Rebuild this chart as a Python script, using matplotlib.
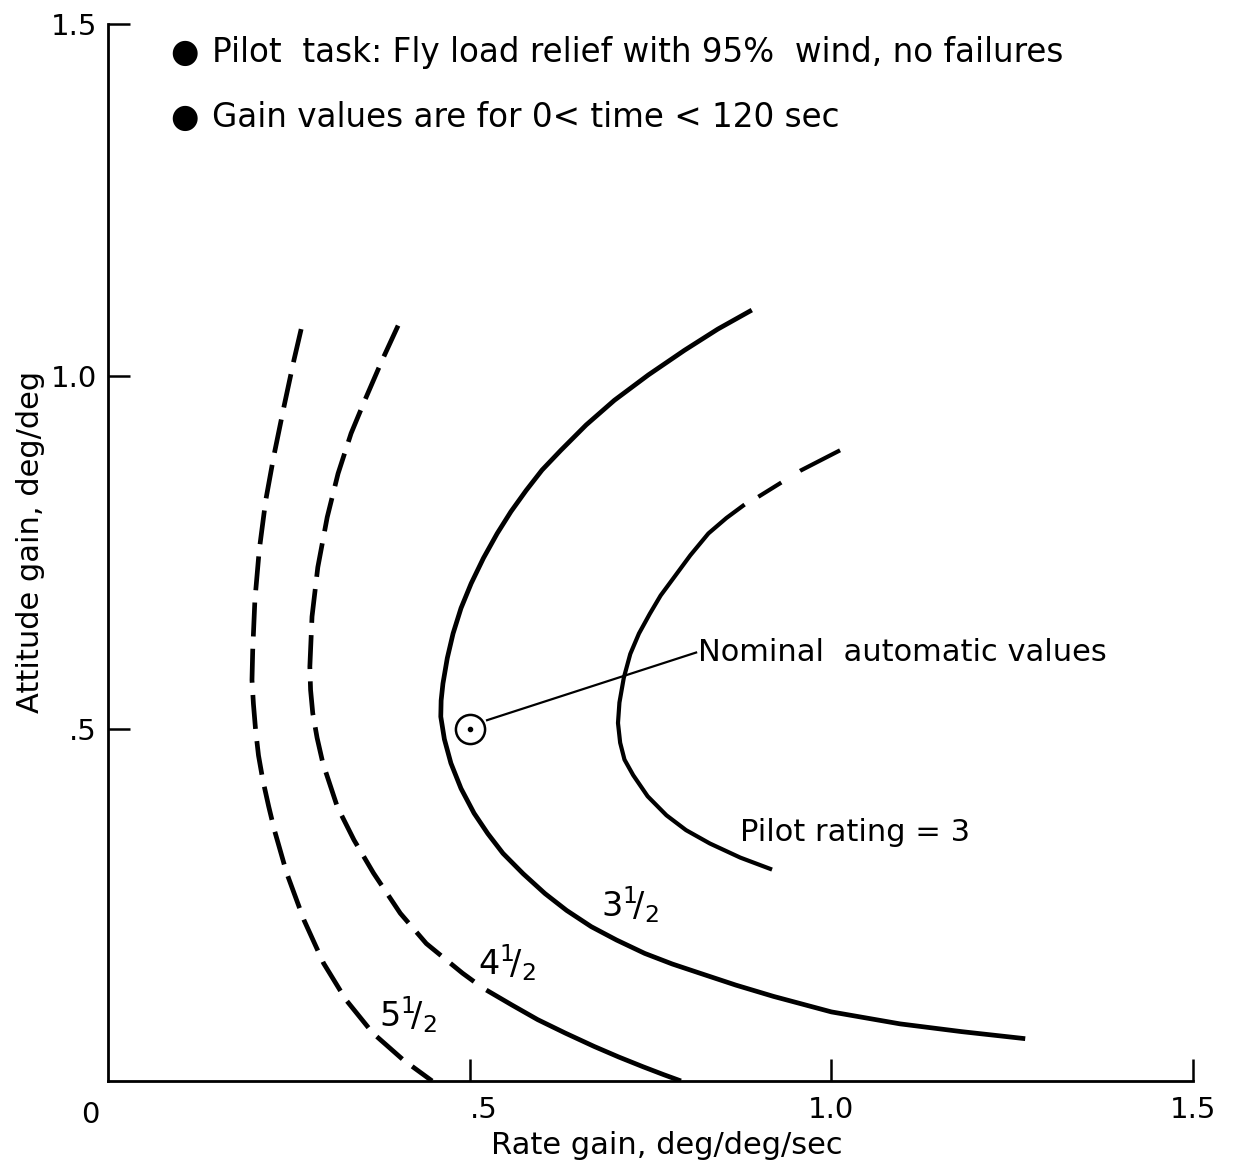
import matplotlib.pyplot as plt
import numpy as np

plt.rcParams['font.family'] = ['DejaVu Sans']
plt.rcParams['mathtext.fontset'] = 'dejavusans'

# pilot rating boundaries, rate gain (x) vs attitude gain (y)
# rating 5 1/2 (dashed)
r55_x = [0.267, 0.257, 0.243, 0.229, 0.218, 0.209, 0.203, 0.200, 0.199, 0.201, 0.204,
         0.208, 0.214, 0.222, 0.230, 0.247, 0.271, 0.298, 0.329, 0.366, 0.408, 0.448]
r55_y = [1.067, 1.023, 0.956, 0.886, 0.824, 0.753, 0.682, 0.611, 0.569, 0.535, 0.498,
         0.462, 0.427, 0.390, 0.356, 0.295, 0.228, 0.167, 0.115, 0.068, 0.030, 0.0]

# rating 4 1/2, dashed upper part, solid lower part
r45_dash_x = [0.401, 0.379, 0.355, 0.336, 0.318, 0.303, 0.290, 0.282, 0.279, 0.280, 0.283,
              0.289, 0.297, 0.317, 0.340, 0.367, 0.404, 0.440, 0.490, 0.506]
r45_dash_y = [1.072, 1.023, 0.966, 0.919, 0.862, 0.800, 0.729, 0.659, 0.588, 0.555, 0.522,
              0.487, 0.451, 0.389, 0.342, 0.295, 0.238, 0.195, 0.153, 0.141]
r45_solid_x = [0.523, 0.558, 0.594, 0.632, 0.672, 0.706, 0.740, 0.768, 0.792]
r45_solid_y = [0.129, 0.108, 0.087, 0.068, 0.049, 0.034, 0.020, 0.009, 0.0]

# rating 3 1/2 (solid)
r35_x = [0.890, 0.843, 0.797, 0.747, 0.700, 0.661, 0.626, 0.600, 0.578, 0.557, 0.538,
         0.519, 0.502, 0.488, 0.477, 0.469, 0.463, 0.4605, 0.460, 0.465, 0.474, 0.488,
         0.506, 0.525, 0.546, 0.574, 0.604, 0.634, 0.668, 0.703, 0.742, 0.780, 0.818,
         0.868, 0.920, 1.0, 1.095, 1.18, 1.268]
r35_y = [1.094, 1.067, 1.037, 1.002, 0.966, 0.931, 0.895, 0.867, 0.838, 0.808, 0.777,
         0.742, 0.706, 0.671, 0.635, 0.600, 0.564, 0.540, 0.517, 0.485, 0.451, 0.415,
         0.380, 0.351, 0.323, 0.294, 0.266, 0.242, 0.219, 0.200, 0.181, 0.166, 0.153,
         0.136, 0.120, 0.098, 0.081, 0.070, 0.060]

# rating 3, solid lower part, dashed upper part
r3_solid_x = [0.918, 0.874, 0.832, 0.799, 0.772, 0.746, 0.726, 0.714, 0.708, 0.705,
              0.707, 0.713, 0.722, 0.734, 0.749, 0.764, 0.782, 0.805, 0.830, 0.855, 0.880]
r3_solid_y = [0.300, 0.317, 0.337, 0.356, 0.377, 0.404, 0.434, 0.456, 0.480, 0.508,
              0.537, 0.572, 0.606, 0.635, 0.663, 0.689, 0.714, 0.746, 0.777, 0.799, 0.818]
r3_dash_x = [0.899, 0.957, 1.012]
r3_dash_y = [0.829, 0.866, 0.895]

# nominal automatic gains
nominal_x = 0.5
nominal_y = 0.5

ticks = [0.5, 1.0, 1.5]
tick_labels = ['.5', '1.0', '1.5']

fig = plt.figure(figsize=(12.39, 11.71), dpi=100)
ax = fig.add_axes([0.0872, 0.0769, 0.8757, 0.9026])
ax.set_xlim(0, 1.5)
ax.set_ylim(0, 1.5)

lw = 3.4
dash = (0, (7.2, 2.6))
ax.plot(r55_x, r55_y, color='black', lw=lw, linestyle=dash)
ax.plot(r45_dash_x, r45_dash_y, color='black', lw=lw, linestyle=dash)
ax.plot(r45_solid_x, r45_solid_y, color='black', lw=lw, solid_capstyle='butt')
ax.plot(r35_x, r35_y, color='black', lw=lw, solid_capstyle='butt',
        solid_joinstyle='round')
ax.plot(r3_solid_x, r3_solid_y, color='black', lw=lw - 0.4, solid_capstyle='butt',
        solid_joinstyle='round')
ax.plot(r3_dash_x, r3_dash_y, color='black', lw=lw - 0.4,
        linestyle=(0, (6.5, 5.3, 11, 5)))

# leader line and marker for the nominal point
ax.plot([nominal_x + 0.024, 0.813], [nominal_y + 0.012, 0.608], color='black', lw=1.6)
ax.plot(nominal_x, nominal_y, marker='o', ms=21, mfc='white', mec='black', mew=1.8)
ax.plot(nominal_x, nominal_y, marker='o', ms=3, color='black')

fs = 22
ax.text(0.815, 0.608, 'Nominal  automatic values', fontsize=fs, va='center', ha='left')
ax.text(0.874, 0.353, 'Pilot rating = 3', fontsize=fs, va='center', ha='left')
ax.text(0.722, 0.250, r'$3^{1}\!/_{2}$', fontsize=24, va='center', ha='center')
ax.text(0.552, 0.168, r'$4^{1}\!/_{2}$', fontsize=24, va='center', ha='center')
ax.text(0.415, 0.094, r'$5^{1}\!/_{2}$', fontsize=24, va='center', ha='center')

fs_top = 23.5
ax.text(0.106, 1.460, '\u25cf', fontsize=fs_top, va='center', ha='center')
ax.text(0.144, 1.460, 'Pilot  task: Fly load relief with 95%  wind, no failures',
        fontsize=fs_top, va='center', ha='left')
ax.text(0.106, 1.367, '\u25cf', fontsize=fs_top, va='center', ha='center')
ax.text(0.144, 1.367, 'Gain values are for 0< time < 120 sec',
        fontsize=fs_top, va='center', ha='left')

# axes styling
for side in ['top', 'right']:
    ax.spines[side].set_visible(False)
for side in ['left', 'bottom']:
    ax.spines[side].set_linewidth(2.0)
ax.set_xticks(ticks)
ax.set_xticklabels(tick_labels)
ax.set_yticks(ticks)
ax.set_yticklabels(tick_labels)
ax.tick_params(direction='in', length=16, width=1.8, labelsize=21)
ax.tick_params(axis='x', pad=11)
ax.tick_params(axis='y', pad=8)
ax.get_xticklabels()[0].set_ha('left')
ax.text(-0.025, -0.048, '0', fontsize=21, ha='center', va='center', clip_on=False)

ax.set_xlabel('Rate gain, deg/deg/sec', fontsize=fs)
ax.xaxis.set_label_coords(0.515, -0.047)
ax.set_ylabel('Attitude gain, deg/deg', fontsize=fs)
ax.yaxis.set_label_coords(-0.058, 0.51)

fig.savefig('out.png', dpi=100)
